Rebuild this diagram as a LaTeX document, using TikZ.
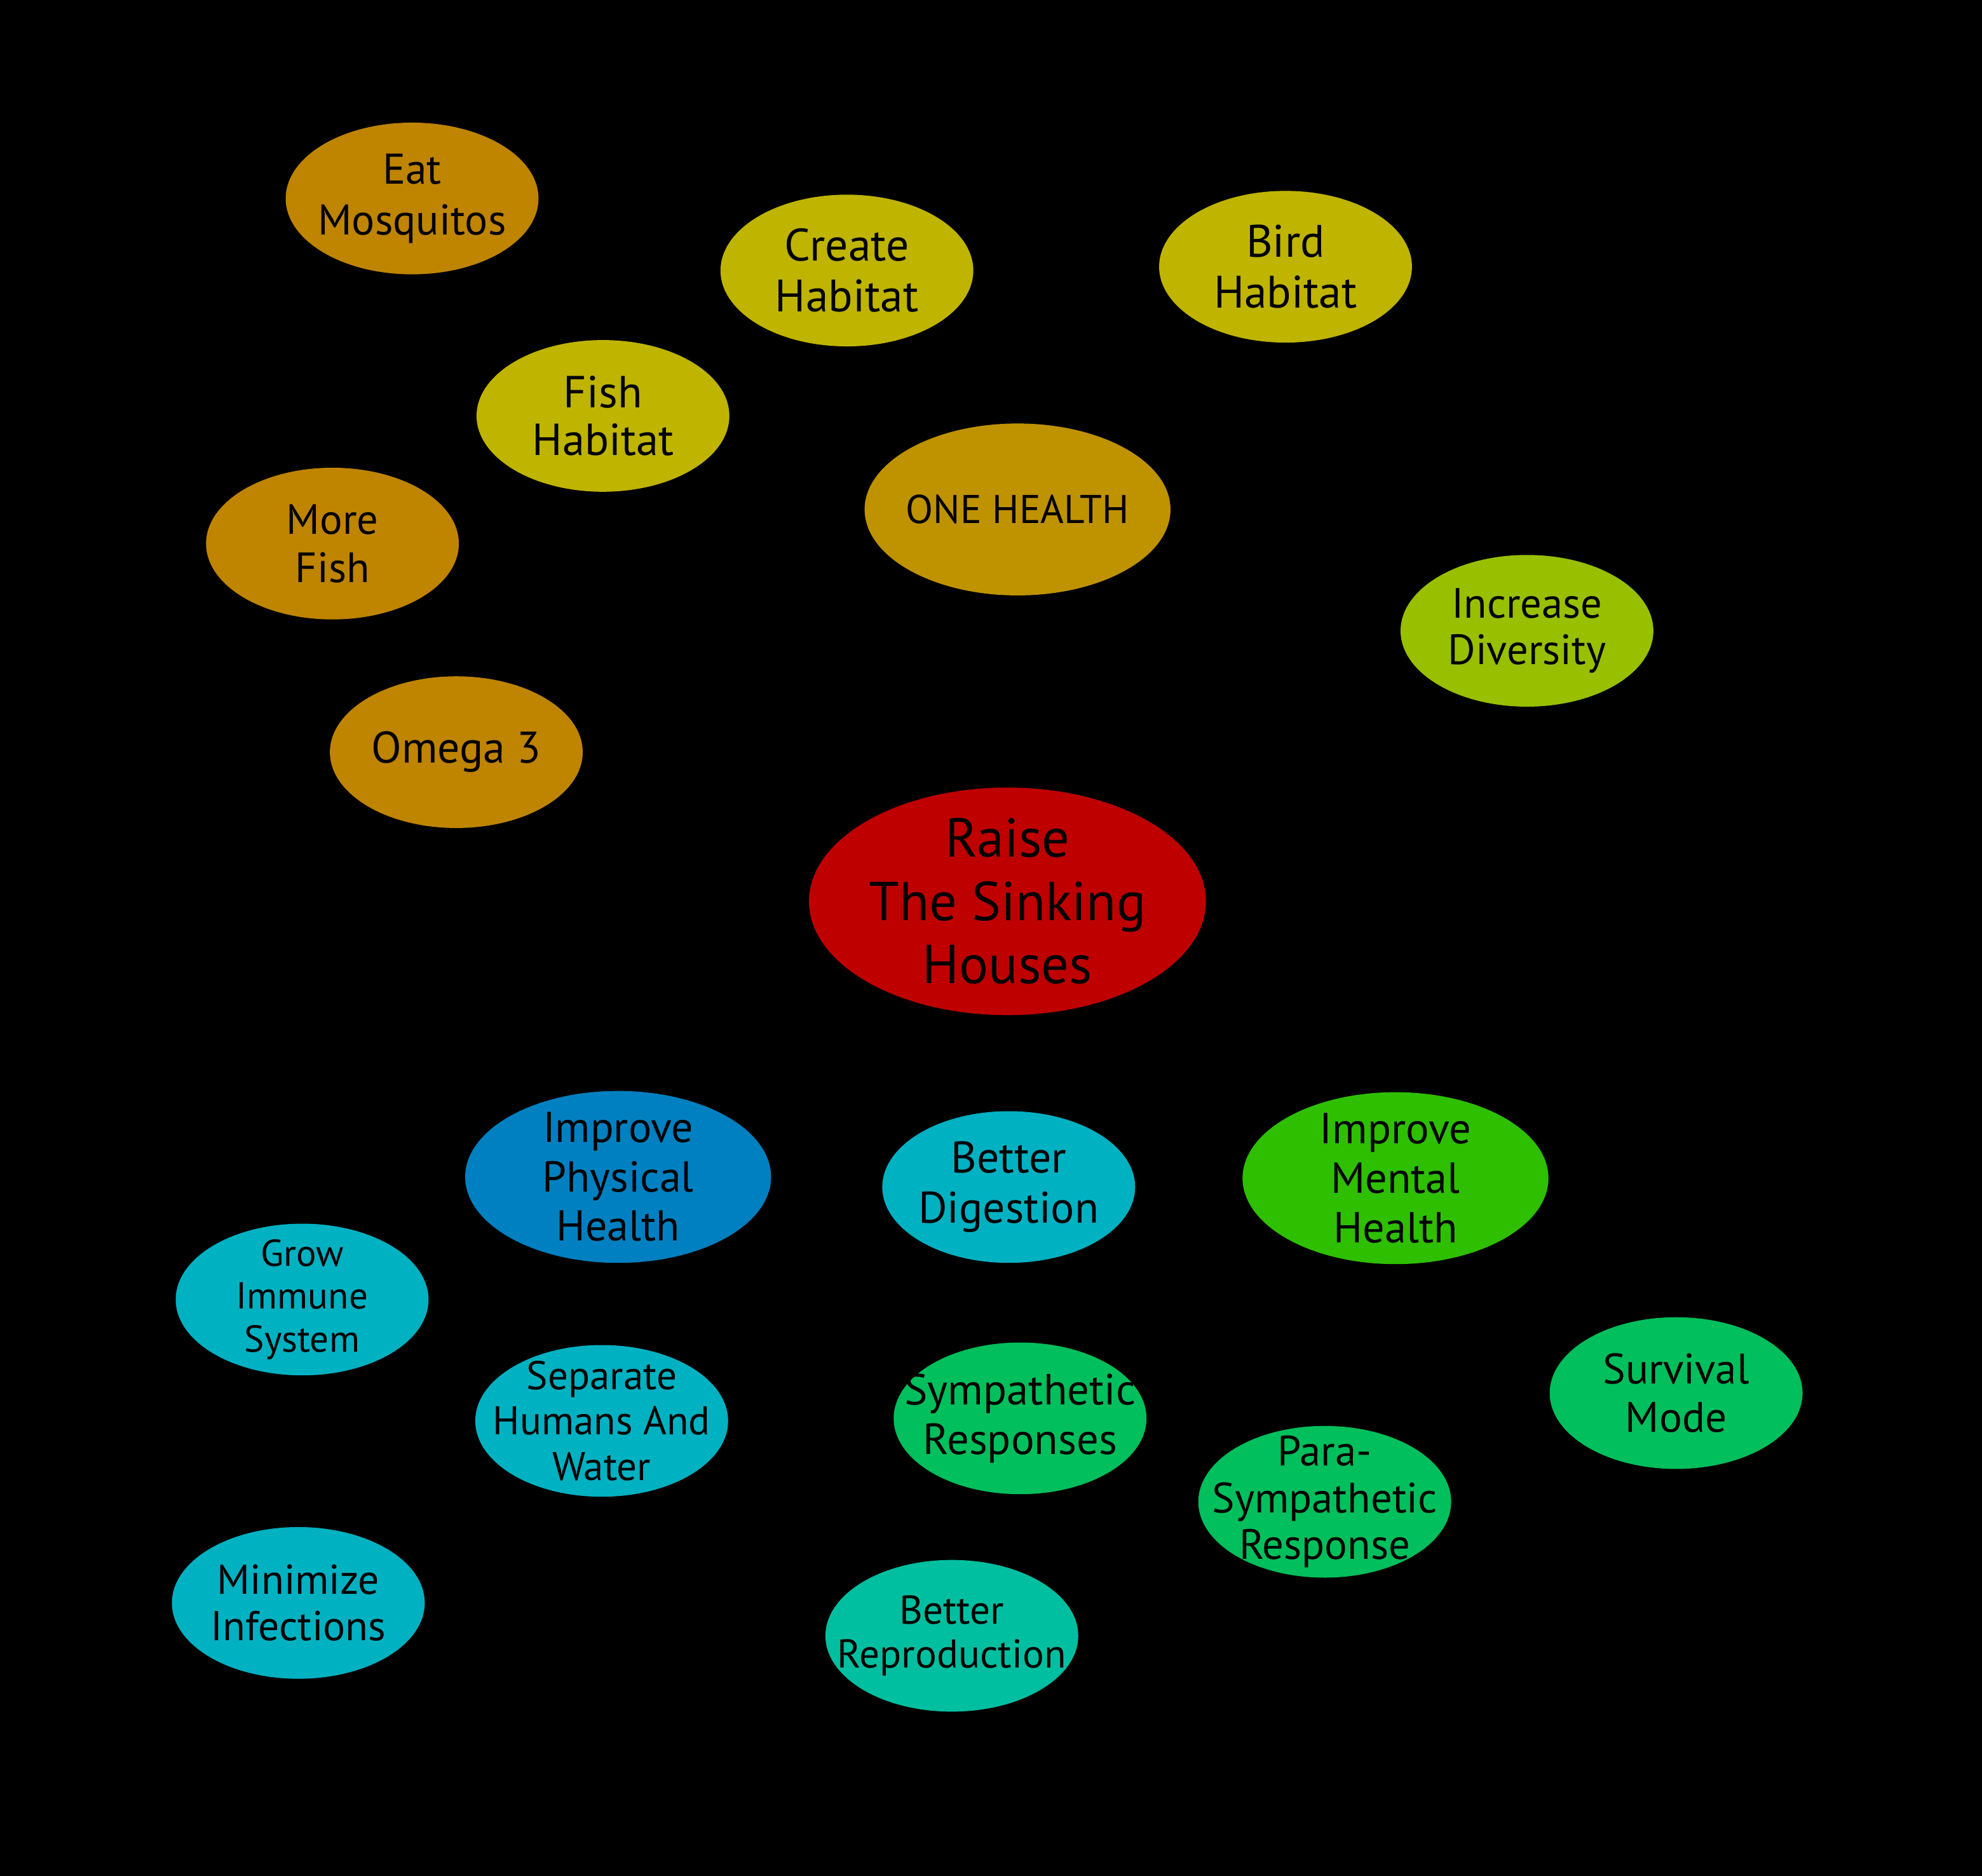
\documentclass[tikz,border=0pt]{standalone}
\usepackage{fontspec}
\setmainfont{PT Sans}
\usetikzlibrary{shapes.geometric}
\definecolor{cOrange}{HTML}{BF8400}
\definecolor{cGold}{HTML}{BF9200}
\definecolor{cOlive}{HTML}{BFB400}
\definecolor{cLime}{HTML}{98BF00}
\definecolor{cRed}{HTML}{BF0000}
\definecolor{cBlue}{HTML}{0080C0}
\definecolor{cCyan}{HTML}{00B1C2}
\definecolor{cGreen}{HTML}{2EBF00}
\definecolor{cSea}{HTML}{00BF5C}
\definecolor{cTeal}{HTML}{00BFA0}
\newcommand\setfs[2]{\fontsize{#1}{#2}\selectfont}
\tikzset{
  bubble/.style={ellipse, inner xsep=-30pt, inner ysep=-25pt, align=center, text=black,
    minimum width=200pt, minimum height=120pt},
  bigbubble/.style={bubble, minimum width=242pt, minimum height=136pt},
}
\begin{document}
\begin{tikzpicture}[x=1pt,y=-1pt]
\fill[black] (0,0) rectangle (1568,1484);
\useasboundingbox (0,0) rectangle (1568,1484);
% top group
\node[bubble, fill=cOrange, font=\setfs{34}{40}] (eat) at (326,157) {Eat\\Mosquitos};
\node[bubble, fill=cOlive, font=\setfs{36}{40}] (create) at (670,214) {Create\\Habitat};
\node[bubble, fill=cOlive, font=\setfs{36}{40}] (bird) at (1017,211) {Bird\\Habitat};
\node[bubble, fill=cOlive, font=\setfs{35.5}{38}] (fish) at (477,329) {Fish\\Habitat};
\node[bubble, fill=cOrange, font=\setfs{33.5}{38}] (more) at (263,430) {More\\Fish};
\node[bigbubble, fill=cGold, font=\setfs{31.7}{38}] (one) at (805,403) {ONE HEALTH};
\node[bubble, fill=cLime, font=\setfs{33.5}{37}] (div) at (1208,499) {Increase\\Diversity};
\node[bubble, fill=cOrange, font=\setfs{35}{38}] (omega) at (361,595) {Omega 3};
% center
\node[ellipse, inner sep=-30pt, align=center, minimum width=314pt, minimum height=180pt, fill=cRed, font=\setfs{43.4}{50}] (raise) at (797,713) {Raise\\The Sinking\\Houses};
% bottom group
\node[bigbubble, fill=cBlue, font=\setfs{34.2}{39}] (phys) at (489,931) {Improve\\Physical\\Health};
\node[bubble, fill=cCyan, font=\setfs{35}{40}] (dig) at (798,939) {Better\\Digestion};
\node[bigbubble, fill=cGreen, font=\setfs{34.4}{39}] (mental) at (1104,932) {Improve\\Mental\\Health};
\node[bubble, fill=cCyan, font=\setfs{29.7}{34}] (immune) at (239,1028) {Grow\\Immune\\System};
\node[bubble, fill=cCyan, font=\setfs{31.7}{36}] (sep) at (476,1124) {Separate\\Humans And\\Water};
\node[bubble, fill=cSea, font=\setfs{34.5}{39}] (symp) at (807,1122) {Sympathetic\\Responses};
\node[bubble, fill=cSea, font=\setfs{33.8}{38}] (surv) at (1326,1102) {Survival\\Mode};
\node[bubble, fill=cSea, font=\setfs{33.6}{37}] (para) at (1048,1188) {Para-\\Sympathetic\\Response};
\node[bubble, fill=cCyan, font=\setfs{33}{37}] (mini) at (236,1268) {Minimize\\Infections};
\node[bubble, fill=cTeal, font=\setfs{31.8}{35}] (repro) at (753,1294) {Better\\Reproduction};
\end{tikzpicture}
\end{document}
